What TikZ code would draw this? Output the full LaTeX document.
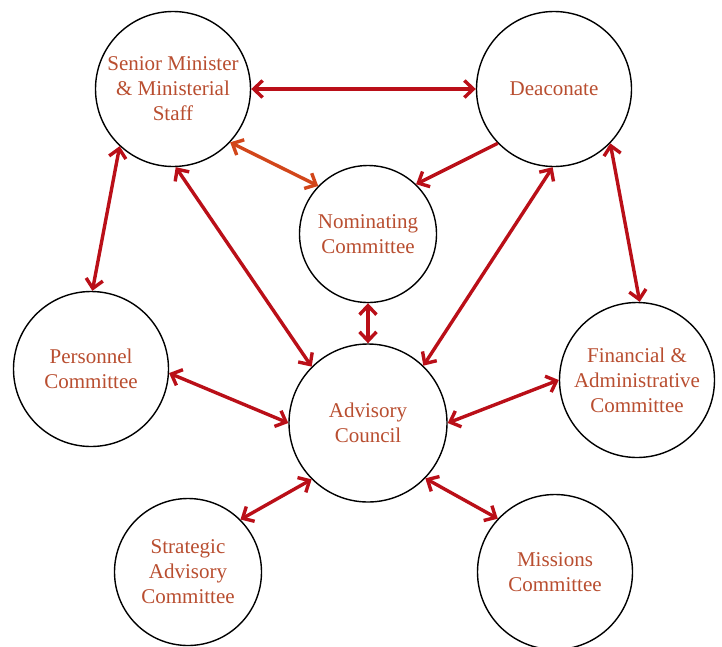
\documentclass[tikz,border=0pt]{standalone}
\usepackage{fontspec}
\setmainfont{Liberation Serif}
\usepackage{tikz}
\usetikzlibrary{positioning, arrows.meta}
\definecolor{linkred}{HTML}{BA0F18}
\definecolor{linkorange}{HTML}{D2461A}
\definecolor{labeltext}{HTML}{B94E30}

\begin{document}
\begin{tikzpicture}[
  on grid,
  every node/.style={font=\rmfamily\fontsize{21pt}{25pt}\selectfont},
  unit/.style={
    circle, draw=black, line width=1.4pt, fill=white, inner sep=0pt,
    minimum size=155pt, align=center, text=labeltext
  },
  link/.style={{Straight Barb[length=9pt,width=17pt]}-{Straight Barb[length=9pt,width=17pt]},
    linkred, line width=3.4pt},
  oneway/.style={-{Straight Barb[length=9pt,width=17pt]}, linkred, line width=3.4pt}
]
  \useasboundingbox (0,0) rectangle (722pt,-646pt);

  \node[unit] (senior) at (173pt,-89pt) {Senior Minister\\\& Ministerial\\Staff};
  \node[unit, right=381pt of senior] (deacon) {Deaconate};
  \node[unit, minimum size=137pt, below right=145pt and 195pt of senior] (nomin) {Nominating\\Committee};
  \node[unit, minimum size=158pt, below=189pt of nomin] (advisory) {Advisory\\Council};
  \node[unit, below left=280pt and 82pt of senior] (personnel) {Personnel\\Committee};
  \node[unit, below right=291pt and 83pt of deacon] (finance) {Financial \&\\Administrative\\Committee};
  \node[unit, minimum size=147pt, below left=149pt and 180pt of advisory] (strategic) {Strategic\\Advisory\\Committee};
  \node[unit, below right=149pt and 187pt of advisory] (missions) {Missions\\Committee};

  \draw[link] (senior.east) -- (deacon.west);
  \draw[link, linkorange] (senior.-43) -- (nomin.136);
  \draw[oneway] (deacon.-136) -- (nomin.46);
  \draw[link] (senior.-133) -- (personnel.89);
  \draw[link] (senior.-88) -- (advisory.135);
  \draw[link] (deacon.-91) -- (advisory.46);
  \draw[link] (deacon.-44) -- (finance.88);
  \draw[link] (nomin.south) -- (advisory.north);
  \draw[link] (personnel.-3) -- (advisory.west);
  \draw[link] (finance.west) -- (advisory.east);
  \draw[link] (strategic.45) -- (advisory.-135);
  \draw[link] (missions.137) -- (advisory.-44);
\end{tikzpicture}
\end{document}
